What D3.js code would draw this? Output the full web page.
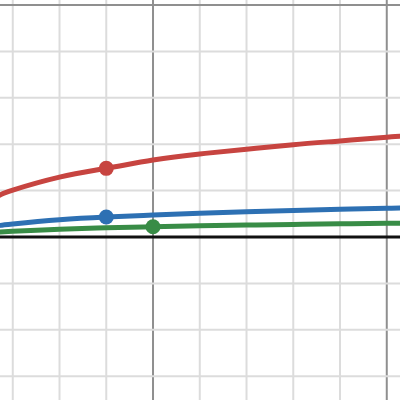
<!DOCTYPE html>
<html>
<head>
<meta charset="utf-8">
<script src="https://cdn.jsdelivr.net/npm/d3@7"></script>
<style>
  body { margin: 0; background: #fff; }
  svg { display: block; }
</style>
</head>
<body>
<div id="chart"></div>
<script>
// sample positions along x
const xs = [1.73, 2, 3, 4, 5, 6, 7, 8, 9, 10, 10.28];
const redValues = [0.905, 1.01, 1.29, 1.48, 1.66, 1.79, 1.89, 1.99, 2.07, 2.15, 2.17];
const blueValues = [0.25, 0.28, 0.37, 0.43, 0.474, 0.51, 0.545, 0.573, 0.597, 0.62, 0.625];
const greenValues = [0.11, 0.126, 0.168, 0.20, 0.222, 0.241, 0.257, 0.271, 0.284, 0.295, 0.298];

const points = [
    { x: 4, y: 1.48, color: '#c74440' },
    { x: 4, y: 0.43, color: '#2d70b3' },
    { x: 5, y: 0.222, color: '#388c46' }
];

const xGrid = [2, 3, 4, 5, 6, 7, 8, 9, 10];
const yGrid = [-3, -2, -1, 1, 2, 3, 4, 5];
const majorStep = 5;

const width = 400,
    height = 400;

let svg = d3.select('#chart').append('svg')
    .attr('width', width)
    .attr('height', height);

let x = d3.scaleLinear().domain([1.727, 10.283]).range([0, width]);
let y = d3.scaleLinear().domain([5.108, -3.513]).range([0, height]);

// Grid lines
svg.append('g')
    .selectAll('line')
    .data(xGrid)
    .enter()
    .append('line')
    .attr('x1', d => x(d)).attr('x2', d => x(d))
    .attr('y1', 0).attr('y2', height)
    .attr('stroke', d => d % majorStep === 0 ? '#8f8f8f' : '#dcdcdc')
    .attr('stroke-width', 2);

svg.append('g')
    .selectAll('line')
    .data(yGrid)
    .enter()
    .append('line')
    .attr('y1', d => y(d)).attr('y2', d => y(d))
    .attr('x1', 0).attr('x2', width)
    .attr('stroke', d => d % majorStep === 0 ? '#8f8f8f' : '#dcdcdc')
    .attr('stroke-width', 2);

// x-axis
svg.append('line')
    .attr('x1', 0).attr('x2', width)
    .attr('y1', y(0)).attr('y2', y(0))
    .attr('stroke', '#111')
    .attr('stroke-width', 3);

// Curves
const series = [
    { values: greenValues, color: '#388c46' },
    { values: blueValues, color: '#2d70b3' },
    { values: redValues, color: '#c74440' }
];

let line = d3.line()
    .x(d => x(d[0]))
    .y(d => y(d[1]))
    .curve(d3.curveNatural);

series.forEach(s => {
    svg.append('path')
        .datum(xs.map((v, i) => [v, s.values[i]]))
        .attr('fill', 'none')
        .attr('stroke', s.color)
        .attr('stroke-width', 5)
        .attr('stroke-linejoin', 'round')
        .attr('stroke-linecap', 'round')
        .attr('d', line);
});

// Points
svg.append('g')
    .selectAll('circle')
    .data(points)
    .enter()
    .append('circle')
    .attr('cx', d => x(d.x))
    .attr('cy', d => y(d.y))
    .attr('r', 7.5)
    .attr('fill', d => d.color);
</script>
</body>
</html>
